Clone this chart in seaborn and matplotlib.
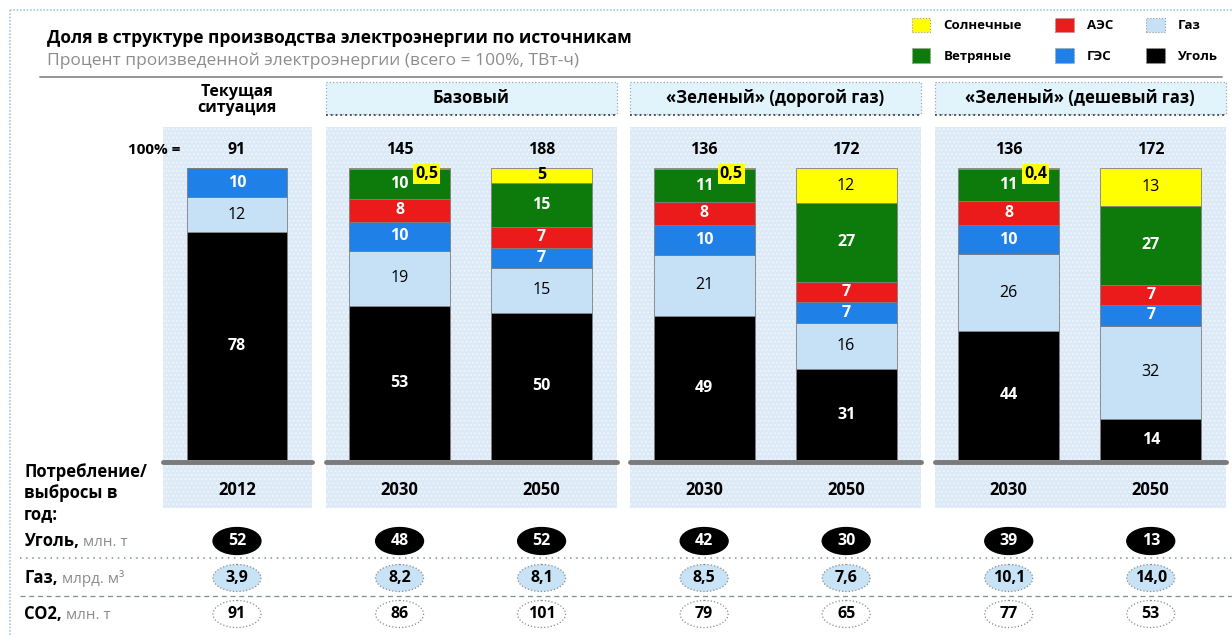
import matplotlib
matplotlib.use("Agg")
import matplotlib.pyplot as plt
import matplotlib.transforms as mtransforms
from matplotlib.patches import Rectangle, Ellipse, Patch
import numpy as np
import pandas as pd
import seaborn as sns

title = "Доля в структуре производства электроэнергии по источникам"
subtitle = "Процент произведенной электроэнергии (всего = 100%, ТВт-ч)"

scenarios = ["Текущая\nситуация", "Базовый", "«Зеленый» (дорогой газ)", "«Зеленый» (дешевый газ)"]
scenario_of_bar = [0, 1, 1, 2, 2, 3, 3]
years = ["2012", "2030", "2050", "2030", "2050", "2030", "2050"]
totals = [91, 145, 188, 136, 172, 136, 172]

# shares, % (bottom to top)
coal = [78, 53, 50, 49, 31, 44, 14]
gas = [12, 19, 15, 21, 16, 26, 32]
hydro = [10, 10, 7, 10, 7, 10, 7]
nuclear = [0, 8, 7, 8, 7, 8, 7]
wind = [0, 10, 15, 11, 27, 11, 27]
solar = [0, 0.5, 5, 0.5, 12, 0.4, 13]

# consumption / emissions per year
coal_use = [52, 48, 52, 42, 30, 39, 13]
gas_use = [3.9, 8.2, 8.1, 8.5, 7.6, 10.1, 14.0]
co2 = [91, 86, 101, 79, 65, 77, 53]

sources = ["Уголь", "Газ", "ГЭС", "АЭС", "Ветряные", "Солнечные"]
colors = {"Уголь": "#000000", "Газ": "#c6e1f6", "ГЭС": "#1f80e8",
          "АЭС": "#ec1b1b", "Ветряные": "#0c7b0c", "Солнечные": "#ffff00"}
label_colors = {"Уголь": "white", "Газ": "black", "ГЭС": "white",
                "АЭС": "white", "Ветряные": "white", "Солнечные": "black"}
legend_order = ["Солнечные", "Ветряные", "АЭС", "ГЭС", "Газ", "Уголь"]

df = pd.DataFrame({"Уголь": coal, "Газ": gas, "ГЭС": hydro, "АЭС": nuclear,
                   "Ветряные": wind, "Солнечные": solar})
shares = df.div(df.sum(axis=1), axis=0) * 100

sns.set_theme(style="white")
FONT = ["Open Sans", "DejaVu Sans"]
plt.rcParams["font.family"] = FONT
plt.rcParams["text.color"] = "black"

px = 1 / 100
fig = plt.figure(figsize=(1232 * px, 635 * px), dpi=100)
fig.patch.set_facecolor("white")

# layout axes in pixel units
deco = fig.add_axes([0, 0, 1, 1])
deco.set_xlim(0, 1232)
deco.set_ylim(635, 0)
deco.axis("off")

# bar axes
ax = fig.add_axes([162 / 1232, (635 - 460) / 635, (1220 - 162) / 1232, (460 - 168) / 635])
ax.patch.set_alpha(0)
ax.axis("off")
pos = np.arange(len(years)) + 0.145 * np.array(scenario_of_bar)
ax.set_xlim(pos[0] - 0.528, pos[0] + (1220 - 162) / 142 - 0.528)
ax.set_ylim(0, 100)
blend = mtransforms.blended_transform_factory(ax.transData, deco.transData)


def fmt(v):
    return f"{v:g}".replace(".", ",")


# outer frame and separator
deco.plot([10, 1232], [10, 10], color="#a8c3dc", lw=1.2, ls=(0, (1, 1)))
deco.plot([10, 10], [10, 635], color="#a8c3dc", lw=1.2, ls=(0, (1, 1)))
deco.plot([40, 1222], [77, 77], color="#8c8c8c", lw=1.3)

deco.text(47, 38, title, fontsize=12.5, fontweight="bold", va="center", ha="left")
deco.text(47, 61, subtitle, fontsize=12.5, color="#8c8c8c", va="center", ha="left")

# scenario panels and headers
for g, name in enumerate(scenarios):
    gp = pos[np.array(scenario_of_bar) == g]
    x0, x1 = gp.min() - 0.52, gp.max() + 0.53
    ax.add_patch(Rectangle((x0, 127), x1 - x0, 381, transform=blend, facecolor="#dce9f6",
                           edgecolor="#eef5fb", hatch="....", lw=0, zorder=0, clip_on=False))
    ax.plot([x0, x1], [462, 462], transform=blend, color="#7a7a7a", lw=3.5, zorder=3,
            clip_on=False, solid_capstyle="round")
    if g == 0:
        ax.text(gp.mean(), 100, name, transform=blend, ha="center", va="center",
                fontsize=11.5, fontweight="bold", linespacing=1.05)
    else:
        ax.add_patch(Rectangle((x0, 82), x1 - x0, 32, transform=blend, facecolor="#e2f4fb",
                               edgecolor="#9aa8b6", ls=":", lw=0.9, zorder=1, clip_on=False))
        ax.plot([x0, x1], [115, 115], transform=blend, color="#444444", lw=1.3, ls=":",
                zorder=1, clip_on=False)
        ax.text(gp.mean(), 98, name, transform=blend, ha="center", va="center",
                fontsize=12, fontweight="bold")

# stacked bars
bottom = np.zeros(len(years))
for src in sources:
    h = shares[src].values
    ax.bar(pos, h, bottom=bottom, width=0.71, color=colors[src], edgecolor="#7f7f7f",
           linewidth=0.6, zorder=2)
    for i, v in enumerate(df[src].values):
        if v == 0:
            continue
        if v < 1:
            ax.text(pos[i] + 0.19, 98.0, fmt(v), ha="center", va="center", fontsize=11.5,
                    fontweight="bold", color="black", zorder=5,
                    bbox=dict(boxstyle="square,pad=0.12", fc="#ffff00", ec="none"))
        else:
            bold = label_colors[src] == "white" or src == "Солнечные" and v < 8
            ax.text(pos[i], bottom[i] + h[i] / 2, fmt(v), ha="center", va="center",
                    fontsize=11.5, color=label_colors[src],
                    fontweight="bold" if bold else "normal", zorder=4)
    bottom += h

for i, t in enumerate(totals):
    ax.text(pos[i], 106, str(t), ha="center", va="center", fontsize=11.5, fontweight="bold",
            clip_on=False)
ax.text(-0.58, 106, "100% =", ha="center", va="center", fontsize=11, fontweight="bold",
        clip_on=False, zorder=5)

for i, y in enumerate(years):
    ax.text(pos[i], 490, y, transform=blend, ha="center", va="center", fontsize=12,
            fontweight="bold", clip_on=False)

# table of consumption / emissions
deco.text(24, 472, "Потребление/", fontsize=12, fontweight="bold", va="center")
deco.text(24, 493, "выбросы в", fontsize=12, fontweight="bold", va="center")
deco.text(24, 514, "год:", fontsize=12, fontweight="bold", va="center")

rows = [("Уголь,", " млн. т", 541, coal_use, "black", "black", "white", "-"),
        ("Газ,", " млрд. м³", 578, gas_use, "#c9e3f6", "#8a8a8a", "black", ":"),
        ("CO2,", " млн. т", 614, co2, "white", "#8a8a8a", "black", ":")]
for name, unit, y, vals, fc, ec, tc, ls in rows:
    t = deco.text(24, y, name, fontsize=12, fontweight="bold", va="center")
    deco.annotate(unit, xy=(1, 0), xycoords=t, va="bottom", ha="left", fontsize=11,
                  color="#8c8c8c")
    for i, v in enumerate(vals):
        ax.add_patch(Ellipse((pos[i], y), 48 / 142, 27, transform=blend, facecolor=fc,
                             edgecolor=ec, ls=ls, lw=0.9, zorder=3, clip_on=False))
        s = f"{v:.1f}".replace(".", ",") if isinstance(v, float) else str(v)
        ax.text(pos[i], y, s, transform=blend, ha="center", va="center", fontsize=11.5,
                fontweight="bold", color=tc, zorder=4, clip_on=False)

deco.plot([20, 1232], [558, 558], color="#7d8da0", lw=1.1, ls=(0, (1, 3)))
deco.plot([20, 1232], [596, 596], color="#7d8da0", lw=0.9, ls=(0, (4, 3)))

# legend
handles = [Patch(facecolor=colors[s], edgecolor="#9a9a9a", ls=":", lw=0.8, label=s)
           for s in legend_order]
deco.legend(handles=handles, ncol=3, loc="upper left", bbox_to_anchor=(900, 6),
            bbox_transform=deco.transData, frameon=False,
            prop=dict(family=FONT, weight="bold", size=9.5), handlelength=1.4,
            handleheight=1.3, handletextpad=1.0, columnspacing=2.5, labelspacing=1.2)

fig.savefig("out.png", dpi=100)
